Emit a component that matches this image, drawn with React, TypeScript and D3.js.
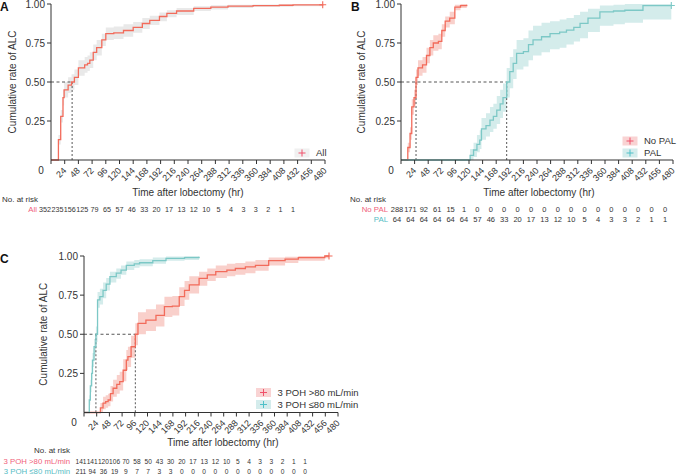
import React from "react";
import * as d3 from "d3";

const W = 677;
const H = 475;
const FONT = "'Liberation Sans', Arial, sans-serif";
const RED = "#F26B5B";
const RED_BAND = "#F9D0CB";
const TEAL = "#7CC8C6";
const TEAL_BAND = "#D4ECEB";
const GRAY_BAND = "#E9E9E9";
const RED_TXT = "#F0607A";
const TEAL_TXT = "#55BCC4";
const INK = "#333333";

const xTicks = d3.range(24, 481, 24);
const yTicks = [0.25, 0.5, 0.75, 1.0];

// Panel A: All
const allT = [0, 10, 13, 17, 21, 23, 30, 36, 41, 48, 59, 64, 68, 74, 80, 89, 96, 110, 127, 144, 160, 173, 190, 203, 220, 250, 280, 310, 354, 400, 424, 476];
const allV = [0, 0, 0.13, 0.28, 0.4, 0.45, 0.48, 0.5, 0.53, 0.59, 0.61, 0.62, 0.64, 0.69, 0.72, 0.77, 0.81, 0.815, 0.83, 0.85, 0.875, 0.895, 0.92, 0.94, 0.955, 0.972, 0.98, 0.986, 0.99, 0.992, 0.994, 0.995];
const allLo = [0, 0, 0.1, 0.24, 0.35, 0.4, 0.43, 0.45, 0.48, 0.54, 0.56, 0.57, 0.59, 0.64, 0.67, 0.73, 0.77, 0.775, 0.79, 0.815, 0.84, 0.865, 0.89, 0.915, 0.93, 0.955, 0.965, 0.975, 0.98, 0.983, 0.985, 0.985];
const allHi = [0, 0, 0.16, 0.32, 0.45, 0.5, 0.53, 0.55, 0.58, 0.64, 0.66, 0.67, 0.69, 0.74, 0.77, 0.81, 0.85, 0.855, 0.87, 0.885, 0.91, 0.925, 0.945, 0.96, 0.975, 0.985, 0.992, 0.995, 0.997, 0.998, 0.999, 1];

// Panel B: No PAL
const noPalT = [0, 8, 12, 16, 19, 23, 26.5, 30, 38, 45, 51, 57, 66, 72, 78, 86, 95, 105, 116];
const noPalV = [0, 0, 0.08, 0.17, 0.34, 0.4, 0.53, 0.59, 0.61, 0.67, 0.72, 0.75, 0.76, 0.83, 0.89, 0.91, 0.98, 0.99, 0.995];
const noPalLo = [0, 0, 0.05, 0.13, 0.29, 0.35, 0.48, 0.54, 0.56, 0.62, 0.67, 0.7, 0.71, 0.79, 0.85, 0.87, 0.96, 0.975, 0.98];
const noPalHi = [0, 0, 0.11, 0.21, 0.39, 0.45, 0.58, 0.64, 0.66, 0.72, 0.77, 0.8, 0.81, 0.87, 0.92, 0.95, 0.995, 1, 1];

// Panel B: PAL
const palT = [0, 118, 122, 128, 134, 139, 142, 150, 157, 163, 169, 175, 180, 186.5, 192, 198, 204, 216, 225, 233, 248, 263, 280, 292, 305, 316, 330, 351, 375, 395, 427, 477];
const palV = [0, 0, 0.03, 0.064, 0.1, 0.128, 0.2, 0.22, 0.256, 0.28, 0.32, 0.36, 0.4, 0.5, 0.566, 0.62, 0.684, 0.695, 0.74, 0.77, 0.79, 0.81, 0.82, 0.833, 0.85, 0.876, 0.91, 0.95, 0.955, 0.96, 0.99, 0.99];
const palLo = [0, 0, 0, 0.02, 0.05, 0.07, 0.13, 0.15, 0.18, 0.2, 0.23, 0.27, 0.31, 0.4, 0.46, 0.52, 0.58, 0.6, 0.64, 0.67, 0.69, 0.71, 0.72, 0.74, 0.76, 0.78, 0.82, 0.86, 0.87, 0.88, 0.9, 0.9];
const palHi = [0, 0, 0.07, 0.11, 0.16, 0.19, 0.27, 0.3, 0.34, 0.36, 0.41, 0.45, 0.49, 0.59, 0.66, 0.71, 0.77, 0.78, 0.83, 0.86, 0.88, 0.89, 0.9, 0.91, 0.93, 0.95, 0.97, 0.99, 0.995, 1, 1, 1];

// Panel C: 3 POH <=80
const lowT = [0, 8, 10, 12, 14.4, 16, 19, 22.5, 25.6, 30, 36, 42, 49, 61, 70, 80, 95, 105, 130, 155, 190, 217.5];
const lowV = [0, 0, 0.08, 0.17, 0.25, 0.335, 0.42, 0.5, 0.72, 0.74, 0.78, 0.82, 0.868, 0.89, 0.91, 0.94, 0.95, 0.957, 0.97, 0.985, 0.99, 0.995];
const lowLo = [0, 0, 0.05, 0.13, 0.21, 0.29, 0.37, 0.45, 0.67, 0.69, 0.73, 0.78, 0.83, 0.855, 0.88, 0.91, 0.925, 0.935, 0.95, 0.97, 0.975, 0.98];
const lowHi = [0, 0, 0.11, 0.21, 0.3, 0.38, 0.47, 0.55, 0.77, 0.79, 0.83, 0.86, 0.9, 0.92, 0.94, 0.965, 0.975, 0.98, 0.99, 0.997, 1, 1];

// Panel C: 3 POH >80
const highT = [0, 27, 31, 36, 41, 45.6, 50, 55, 62, 67.5, 74, 80, 83, 89, 97, 102, 117, 136, 152, 167, 180, 190, 199, 217.5, 233, 249, 270, 286, 305, 324, 349, 380, 405, 455, 463];
const highV = [0, 0, 0.03, 0.06, 0.07, 0.08, 0.12, 0.155, 0.18, 0.197, 0.27, 0.335, 0.357, 0.42, 0.5, 0.57, 0.59, 0.62, 0.676, 0.68, 0.74, 0.78, 0.815, 0.857, 0.88, 0.9, 0.91, 0.92, 0.93, 0.94, 0.97, 0.98, 0.99, 1, 1];
const highLo = [0, 0, 0, 0.02, 0.03, 0.04, 0.07, 0.1, 0.12, 0.14, 0.2, 0.27, 0.29, 0.35, 0.43, 0.5, 0.52, 0.55, 0.61, 0.62, 0.68, 0.72, 0.76, 0.81, 0.84, 0.86, 0.87, 0.88, 0.89, 0.905, 0.94, 0.955, 0.97, 0.985, 0.985];
const highHi = [0, 0, 0.06, 0.1, 0.11, 0.12, 0.17, 0.21, 0.24, 0.26, 0.34, 0.4, 0.42, 0.49, 0.57, 0.64, 0.66, 0.69, 0.74, 0.745, 0.8, 0.84, 0.87, 0.9, 0.92, 0.94, 0.95, 0.955, 0.965, 0.975, 0.99, 0.995, 1, 1, 1];

// Numbers at risk
const riskAll = [352, 235, 156, 125, 79, 65, 57, 46, 33, 20, 17, 13, 12, 10, 5, 4, 3, 3, 2, 1, 1];
const riskNoPal = [288, 171, 92, 61, 15, 1, 0, 0, 0, 0, 0, 0, 0, 0, 0, 0, 0, 0, 0, 0, 0];
const riskPal = [64, 64, 64, 64, 64, 64, 57, 46, 33, 20, 17, 13, 12, 10, 5, 4, 3, 3, 2, 1, 1];
const riskHigh = [141, 141, 120, 106, 70, 58, 50, 43, 30, 20, 17, 13, 12, 10, 5, 4, 3, 3, 2, 1, 1];
const riskLow = [211, 94, 36, 19, 9, 7, 7, 3, 3, 0, 0, 0, 0, 0, 0, 0, 0, 0, 0, 0, 0];

type Series = { t: number[]; v: number[]; lo: number[]; hi: number[]; color: string; band: string; censor: boolean };
type LegendItem = { label: string; color: string; bg: string };
type RiskRow = { label: string; color: string; values: number[]; y: number };
type Cfg = {
  letter: string; letterX: number; letterY: number;
  x0: number; x1: number; yTop: number; yBot: number;
  ylabX: number; titleX: number; titleY: number;
  series: Series[]; medians: number[]; hTo: number;
  legend: { x: number; y: number; gap: number; items: LegendItem[] };
  risk: { headX: number; headY: number; headAnchor: string; labelX: number; labelAnchor: string; numX0: number; numStep: number; numSize: number; rows: RiskRow[] };
};

function Panel({ cfg }: { cfg: Cfg }) {
  const x = d3.scaleLinear().domain([0, 480]).range([cfg.x0, cfg.x1]);
  const y = d3.scaleLinear().domain([0, 1]).range([cfg.yBot, cfg.yTop]);
  const y5 = y(0.5);
  return (
    <g>
      <text x={cfg.letterX} y={cfg.letterY} fontSize={12} fontWeight="bold" fill="#111">{cfg.letter}</text>
      {cfg.series.map((s, k) => {
        const idx = s.t.map((_, i) => i);
        const a = d3.area<number>().curve(d3.curveStepAfter).x((i) => x(s.t[i])).y0((i) => y(s.lo[i])).y1((i) => y(s.hi[i]));
        return <path key={"b" + k} d={a(idx) || ""} fill={s.band} stroke="none" />;
      })}
      <path d={`M${cfg.x0},${y5}H${x(cfg.hTo)}`} stroke="#444" strokeWidth={0.9} strokeDasharray="3,2.5" fill="none" />
      {cfg.medians.map((m, i) => (
        <path key={"m" + i} d={`M${x(m)},${y5}V${cfg.yBot}`} stroke="#444" strokeWidth={0.9} strokeDasharray="2,2" fill="none" />
      ))}
      {cfg.series.map((s, k) => {
        const idx = s.t.map((_, i) => i);
        const l = d3.line<number>().curve(d3.curveStepAfter).x((i) => x(s.t[i])).y((i) => y(s.v[i]));
        const last = s.t.length - 1;
        return (
          <g key={"l" + k}>
            <path d={l(idx) || ""} fill="none" stroke={s.color} strokeWidth={1.3} />
            {s.censor && (
              <path d={`M${x(s.t[last]) - 3.5},${y(s.v[last])}h7M${x(s.t[last])},${y(s.v[last]) - 3.5}v7`} stroke={s.color} strokeWidth={1.1} />
            )}
          </g>
        );
      })}
      <path d={`M${cfg.x0},${cfg.yTop}V${cfg.yBot}H${cfg.x1}`} fill="none" stroke="#333" strokeWidth={1} />
      {yTicks.map((t) => (
        <g key={"yt" + t}>
          <path d={`M${cfg.x0 - 4},${y(t)}H${cfg.x0}`} stroke="#333" strokeWidth={1} />
          <text x={cfg.x0 - 6} y={y(t)} dy="0.35em" textAnchor="end" fontSize={10} fill={INK}>{d3.format(".2f")(t)}</text>
        </g>
      ))}
      <path d={`M${cfg.x0},${cfg.yBot}v4`} stroke="#333" strokeWidth={1} />
      {xTicks.map((t) => (
        <g key={"xt" + t}>
          <path d={`M${x(t)},${cfg.yBot}v4`} stroke="#333" strokeWidth={1} />
          <text transform={`translate(${x(t)},${cfg.yBot + 9}) rotate(-45)`} dy="0.35em" textAnchor="end" fontSize={9} fill={INK}>{t}</text>
        </g>
      ))}
      <text x={cfg.x0 - 10} y={cfg.yBot + 10} dy="0.35em" textAnchor="middle" fontSize={10} fill={INK}>0</text>
      <text transform={`translate(${cfg.ylabX},${(cfg.yTop + cfg.yBot) / 2}) rotate(-90)`} dy="0.35em" textAnchor="middle" fontSize={10} fill={INK}>Cumulative rate of ALC</text>
      <text x={cfg.titleX} y={cfg.titleY} textAnchor="middle" fontSize={10} fill={INK}>Time after lobectomy (hr)</text>
      {cfg.legend.items.map((it, i) => {
        const ly = cfg.legend.y + i * cfg.legend.gap;
        return (
          <g key={"lg" + i}>
            <rect x={cfg.legend.x - 7.5} y={ly - 4.5} width={15} height={9} fill={it.bg} />
            <path d={`M${cfg.legend.x - 3.5},${ly}h7M${cfg.legend.x},${ly - 3.5}v7`} stroke={it.color} strokeWidth={1} />
            <text x={cfg.legend.x + 14} y={ly} dy="0.35em" fontSize={9.5} fill={INK}>{it.label}</text>
          </g>
        );
      })}
      <text x={cfg.risk.headX} y={cfg.risk.headY} textAnchor={cfg.risk.headAnchor as any} fontSize={8} fill={INK}>No. at risk</text>
      {cfg.risk.rows.map((r, i) => (
        <g key={"r" + i}>
          <text x={cfg.risk.labelX} y={r.y} textAnchor={cfg.risk.labelAnchor as any} fontSize={7.8} fill={r.color}>{r.label}</text>
          {r.values.map((v, j) => (
            <text key={j} x={cfg.risk.numX0 + j * cfg.risk.numStep} y={r.y} textAnchor="middle" fontSize={cfg.risk.numSize} fill={INK}>{v}</text>
          ))}
        </g>
      ))}
    </g>
  );
}

const panelA: Cfg = {
  letter: "A", letterX: 0, letterY: 11,
  x0: 51, x1: 325, yTop: 4, yBot: 160,
  ylabX: 12, titleX: 188, titleY: 196,
  series: [{ t: allT, v: allV, lo: allLo, hi: allHi, color: RED, band: GRAY_BAND, censor: true }],
  medians: [37], hTo: 37,
  legend: { x: 302, y: 153, gap: 12, items: [{ label: "All", color: "#F0506A", bg: "#F0F0F0" }] },
  risk: { headX: 2, headY: 202, headAnchor: "start", labelX: 37, labelAnchor: "end", numX0: 45, numStep: 12.4, numSize: 7.2,
    rows: [{ label: "All", color: RED_TXT, values: riskAll, y: 212 }] },
};

const panelB: Cfg = {
  letter: "B", letterX: 351, letterY: 11,
  x0: 401, x1: 673, yTop: 4, yBot: 160,
  ylabX: 361, titleX: 539, titleY: 196,
  series: [
    { t: noPalT, v: noPalV, lo: noPalLo, hi: noPalHi, color: RED, band: RED_BAND, censor: false },
    { t: palT, v: palV, lo: palLo, hi: palHi, color: TEAL, band: TEAL_BAND, censor: true },
  ],
  medians: [26.5, 186.5], hTo: 186.5,
  legend: { x: 630, y: 141, gap: 12, items: [
    { label: "No PAL", color: "#F0506A", bg: "#F9D3D3" },
    { label: "PAL", color: "#4FC0C8", bg: "#D4ECEC" },
  ] },
  risk: { headX: 350, headY: 202, headAnchor: "start", labelX: 388, labelAnchor: "end", numX0: 397, numStep: 13.4, numSize: 7.5,
    rows: [
      { label: "No PAL", color: RED_TXT, values: riskNoPal, y: 212 },
      { label: "PAL", color: TEAL_TXT, values: riskPal, y: 222 },
    ] },
};

const panelC: Cfg = {
  letter: "C", letterX: 0, letterY: 263,
  x0: 84, x1: 338, yTop: 256, yBot: 412.5,
  ylabX: 43, titleX: 223, titleY: 446,
  series: [
    { t: highT, v: highV, lo: highLo, hi: highHi, color: RED, band: RED_BAND, censor: true },
    { t: lowT, v: lowV, lo: lowLo, hi: lowHi, color: TEAL, band: TEAL_BAND, censor: false },
  ],
  medians: [22.5, 97], hTo: 97,
  legend: { x: 263.5, y: 392.5, gap: 12, items: [
    { label: "3 POH >80 mL/min", color: "#F0506A", bg: "#F9D3D3" },
    { label: "3 POH \u226480 mL/min", color: "#4FC0C8", bg: "#D4ECEC" },
  ] },
  risk: { headX: 70, headY: 453, headAnchor: "end", labelX: 70, labelAnchor: "end", numX0: 81, numStep: 11.2, numSize: 6.6,
    rows: [
      { label: "3 POH >80 mL/min", color: RED_TXT, values: riskHigh, y: 464 },
      { label: "3 POH \u226480 mL/min", color: TEAL_TXT, values: riskLow, y: 474 },
    ] },
};

export default function App() {
  return (
    <svg width={W} height={H} viewBox={`0 0 ${W} ${H}`} style={{ position: "absolute", left: 0, top: 0, background: "#fff" }} fontFamily={FONT}>
      <rect width={W} height={H} fill="#fff" />
      <Panel cfg={panelA} />
      <Panel cfg={panelB} />
      <Panel cfg={panelC} />
    </svg>
  );
}
